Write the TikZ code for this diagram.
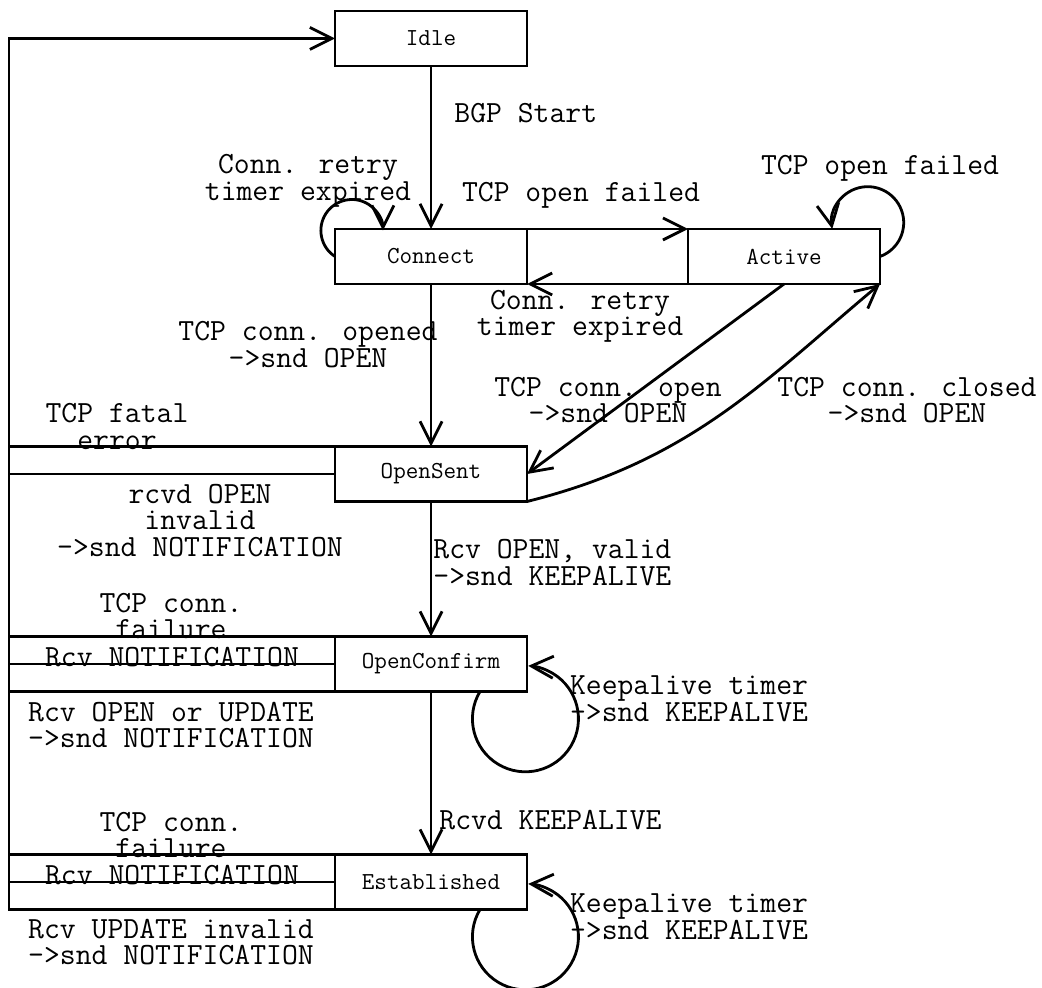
\documentclass[tikz,border=0pt]{standalone}
\usepackage{fontspec}
\usetikzlibrary{arrows.meta,calc}
\begin{document}
\begin{tikzpicture}[x=0.5pt,y=-0.5pt,
  line width=1.4pt,
  state/.style={draw, rectangle, minimum width=96pt, minimum height=27.5pt,
    inner sep=0pt, outer sep=0pt, font=\ttfamily\fontsize{12.2}{13}\selectfont},
  lbl/.style={inner sep=0pt, align=center,
    font=\ttfamily\fontsize{15.4}{13.25}\selectfont},
  arr/.style={-{Straight Barb[length=11pt,width=11pt]}},
]
\useasboundingbox (0,0) rectangle (1042,988);

% states
\node[state] (idle) at (431,38.5)  {Idle};
\node[state] (conn) at (431,256.5) {Connect};
\node[state] (act)  at (784,256.5) {Active};
\node[state] (os)   at (431,474)   {OpenSent};
\node[state] (oc)   at (431,664)   {OpenConfirm};
\node[state] (est)  at (431,882)   {Established};

% left return bus back to Idle
\coordinate (busx) at (9,0);
\draw[arr] (est.south west) -- (busx |- est.south west) |- (idle.west);
\draw (os.north west)  -- (busx |- os.north west);
\draw (os.west)        -- (busx |- os.west);
\draw (oc.north west)  -- (busx |- oc.north west);
\draw (oc.west)        -- (busx |- oc.west);
\draw (oc.south west)  -- (busx |- oc.south west);
\draw (est.north west) -- (busx |- est.north west);
\draw (est.west)       -- (busx |- est.west);

% main transitions
\draw[arr] (idle.south) -- (conn.north);
\draw[arr] (conn.north east) -- (act.north west);
\draw[arr] (act.south west) -- (conn.south east);
\draw[arr] (conn.south) -- (os.north);
\draw[arr] (act.south) -- (os.east);
\draw[arr] (os.south east) .. controls +(165,-41) and +(-115,96) .. (act.south east);
\draw[arr] (os.south) -- (oc.north);
\draw[arr] (oc.south) -- (est.north);

% self loops
\draw[arr] (conn.west) arc[start angle=-237, end angle=0, radius=31];
\draw[arr] (act.east) arc[start angle=70, end angle=-190, radius=36];
\draw[arr] ($(oc.south)+(49,0)$) arc[start angle=-149, end angle=-447, radius=53];
\draw[arr] ($(est.south)+(49,0)$) arc[start angle=-149, end angle=-447, radius=53];

% transition labels
\node[lbl, anchor=west] (lbgp) at (453,113) {BGP Start};
\node[lbl] (lretryc) at (308,181) {Conn. retry\\timer expired};
\node[lbl] (ltofa) at (581,195) {TCP open failed};
\node[lbl] (ltofb) at (880,168) {TCP open failed};
\node[lbl] (lretrya) at (580,316.5) {Conn. retry\\timer expired};
\node[lbl] (lopened) at (308,344.5) {TCP conn. opened\\->snd OPEN};
\node[lbl] (lcopen) at (608,400) {TCP conn. open\\->snd OPEN};
\node[lbl] (lcclosed) at (907,400) {TCP conn. closed\\->snd OPEN};
\node[lbl] (lfatal) at (117,426.5) {TCP fatal\\error};
\node[lbl] (linvalid) at (200,520.5) {rcvd OPEN\\invalid\\->snd NOTIFICATION};
\node[lbl, anchor=west, align=left] (lvalid) at (432,562.5) {Rcv OPEN, valid\\->snd KEEPALIVE};
\node[lbl] (lfailc) at (171,616) {TCP conn.\\failure};
\node[lbl] (lnotic) at (172,657) {Rcv NOTIFICATION};
\node[lbl] (lopenupd) at (171,725) {Rcv OPEN or UPDATE\\->snd NOTIFICATION};
\node[lbl] (lkac) at (689,698.5) {Keepalive timer\\->snd KEEPALIVE};
\node[lbl, anchor=west] (lrcvdka) at (438,820) {Rcvd KEEPALIVE};
\node[lbl] (lfaile) at (171,835) {TCP conn.\\failure};
\node[lbl] (lnotie) at (172,875) {Rcv NOTIFICATION};
\node[lbl] (lupdinv) at (171,942) {Rcv UPDATE invalid\\->snd NOTIFICATION};
\node[lbl] (lkae) at (689,916.5) {Keepalive timer\\->snd KEEPALIVE};
\end{tikzpicture}
\end{document}
